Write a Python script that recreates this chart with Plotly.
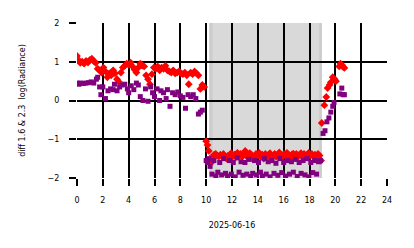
import plotly.graph_objects as go

# Red series (diff 1.6 & 2.3 log radiance, set A)
red_t = [0.0, 0.1, 0.25, 0.4, 0.55, 0.7, 0.85, 1.0, 1.15, 1.3, 1.45, 1.6, 1.75, 1.9, 2.05, 2.2, 2.35, 2.5, 2.65, 2.8, 2.95,
         3.1, 3.25, 3.4, 3.55, 3.7, 3.85, 4.0, 4.15, 4.3, 4.45, 4.6, 4.75, 4.9, 5.05, 5.2, 5.35, 5.5, 5.65, 5.8, 5.95,
         6.1, 6.25, 6.4, 6.55, 6.7, 6.85, 7.0, 7.15, 7.3, 7.45, 7.6, 7.75, 7.9, 8.05, 8.2, 8.35, 8.5, 8.65, 8.8, 8.95,
         9.1, 9.25, 9.4, 9.55, 9.7, 9.85,
         10.0, 10.1, 10.2, 10.3, 10.4, 10.5, 10.62, 10.74, 10.86, 10.98, 11.1, 11.22, 11.34, 11.46, 11.58, 11.7, 11.82,
         11.94, 12.06, 12.18, 12.3, 12.42, 12.54, 12.66, 12.78, 12.9, 13.02, 13.14, 13.26, 13.38, 13.5, 13.62, 13.74,
         13.86, 13.98, 14.1, 14.22, 14.34, 14.46, 14.58, 14.7, 14.82, 14.94, 15.06, 15.18, 15.3, 15.42, 15.54, 15.66,
         15.78, 15.9, 16.02, 16.14, 16.26, 16.38, 16.5, 16.62, 16.74, 16.86, 16.98, 17.1, 17.22, 17.34, 17.46, 17.58,
         17.7, 17.82, 17.94, 18.06, 18.18, 18.3, 18.42, 18.54, 18.66, 18.78, 18.9,
         18.95, 19.15, 19.3, 19.4, 19.55, 19.65, 19.8, 19.95, 20.05, 20.3, 20.4, 20.5, 20.6, 20.7]
red_v = [1.15, 1.05, 0.97, 1.0, 0.95, 1.02, 0.98, 1.05, 1.08, 1.02, 0.97, 0.82, 0.78, 0.72, 0.85, 0.75, 0.6, 0.7, 0.65, 0.78, 0.7,
         0.55, 0.48, 0.72, 0.85, 0.9, 0.95, 0.92, 0.98, 0.88, 0.8, 0.72, 0.85, 0.95, 0.9, 0.88, 0.65, 0.55, 0.42, 0.68, 0.85,
         0.82, 0.88, 0.78, 0.85, 0.82, 0.9, 0.78, 0.75, 0.72, 0.78, 0.7, 0.72, 0.75, 0.7, 0.68, 0.72, 0.65, 0.42, 0.72, 0.68,
         0.75, 0.7, 0.65, 0.3, 0.4, 0.35,
         -1.05, -1.15, -1.3, -1.5, -1.6, -1.45, -1.4, -1.38, -1.42, -1.45, -1.4, -1.43, -1.38, -1.45, -1.5, -1.42, -1.4,
         -1.36, -1.44, -1.4, -1.46, -1.35, -1.42, -1.38, -1.45, -1.4, -1.3, -1.42, -1.48, -1.36, -1.4, -1.52, -1.45,
         -1.38, -1.42, -1.35, -1.46, -1.4, -1.5, -1.38, -1.44, -1.4, -1.36, -1.48, -1.42, -1.38, -1.45, -1.4, -1.34,
         -1.42, -1.46, -1.38, -1.4, -1.35, -1.44, -1.5, -1.4, -1.37, -1.43, -1.38, -1.46, -1.4, -1.36, -1.42, -1.38,
         -1.45, -1.4, -1.35, -1.42, -1.38, -1.44, -1.4, -1.46, -1.38, -1.42, -1.55,
         -0.58, -0.12, 0.09, 0.32, 0.4, 0.47, 0.6, 0.55, 0.5, 0.88, 0.95, 0.92, 0.87, 0.84]

# Purple series (set B)
pur_t = [0.0, 0.15, 0.3, 0.5, 0.7, 0.9, 1.1, 1.3, 1.5, 1.6, 1.75, 1.85, 2.0, 2.2, 2.4, 2.6, 2.8, 2.9, 3.1, 3.3, 3.5,
         3.7, 3.9, 4.0, 4.2, 4.4, 4.6, 4.75, 4.9, 5.1, 5.3, 5.5, 5.7, 5.85, 6.0, 6.2, 6.4, 6.5, 6.7, 6.9, 7.0, 7.2,
         7.4, 7.6, 7.8, 8.0, 8.2, 8.4, 8.6, 8.8, 9.0, 9.2, 9.4, 9.55, 9.7,
         10.0, 10.1, 10.2, 10.3, 10.45, 10.6, 10.75, 10.9, 11.05, 11.2, 11.35, 11.5, 11.65, 11.8, 11.95, 12.1, 12.25,
         12.4, 12.55, 12.7, 12.85, 13.0, 13.15, 13.3, 13.45, 13.6, 13.75, 13.9, 14.05, 14.2, 14.35, 14.5, 14.65,
         14.8, 14.95, 15.1, 15.25, 15.4, 15.55, 15.7, 15.85, 16.0, 16.15, 16.3, 16.45, 16.6, 16.75, 16.9, 17.05,
         17.2, 17.35, 17.5, 17.65, 17.8, 17.95, 18.1, 18.25, 18.4, 18.55, 18.7, 18.85,
         19.05, 19.2, 19.35, 19.5, 19.65, 19.8, 19.9, 20.35, 20.5, 20.6, 20.7]
pur_v = [0.45, 0.42, 0.45, 0.44, 0.45, 0.46, 0.48, 0.45, 0.55, 0.6, 0.35, 0.15, 0.35, 0.05, 0.25, 0.3, 0.28, 0.42, 0.25, 0.35, 0.4,
         0.42, 0.3, 0.2, 0.38, 0.28, 0.45, 0.4, 0.1, 0.0, 0.3, -0.02, 0.35, 0.2, 0.1, 0.3, 0.0, 0.25, 0.2, 0.05, 0.28, -0.15,
         0.2, 0.15, 0.22, 0.12, 0.08, -0.2, 0.15, 0.1, 0.15, 0.05, -0.35, -0.3, -0.25,
         -1.55, -1.6, -1.5, -1.7, -1.9, -1.55, -1.95, -1.85, -1.6, -1.92, -1.5, -1.88, -1.95, -1.55, -1.9, -1.6, -1.97,
         -1.48, -1.85, -1.58, -1.93, -1.6, -1.9, -1.52, -1.96, -1.88, -1.55, -1.92, -1.6, -1.85, -1.95, -1.5, -1.9,
         -1.58, -1.97, -1.55, -1.88, -1.62, -1.93, -1.5, -1.86, -1.6, -1.95, -1.55, -1.9, -1.58, -1.85, -1.52, -1.96,
         -1.6, -1.88, -1.55, -1.92, -1.5, -1.97, -1.6, -1.86, -1.55, -1.9, -1.58, -1.55,
         -0.85, -0.78, -0.55, -0.45, -0.3, -0.15, -0.05, 0.17, 0.32, 0.15, 0.15]

shade_start, shade_end = 10.25, 18.95
x_ticks = list(range(0, 25, 2))
y_ticks = [-2, -1, 0, 1, 2]

fig = go.Figure()
fig.add_vrect(x0=shade_start, x1=shade_end, fillcolor="#d9d9d9", opacity=1, line_width=0, layer="below")
fig.add_vrect(x0=shade_start, x1=shade_start + 0.25, fillcolor="#cccccc", opacity=1, line_width=0, layer="below")
fig.add_vrect(x0=shade_end - 0.2, x1=shade_end, fillcolor="#cccccc", opacity=1, line_width=0, layer="below")

fig.add_trace(go.Scatter(x=red_t, y=red_v, mode="markers",
                         marker=dict(symbol="diamond", size=6, color="#ff0000", line_width=0),
                         showlegend=False))
fig.add_trace(go.Scatter(x=pur_t, y=pur_v, mode="markers",
                         marker=dict(symbol="square", size=5, color="#800080", line_width=0),
                         showlegend=False))

axis_common = dict(showgrid=True, gridcolor="black", gridwidth=2, zeroline=False,
                   ticks="outside", ticklen=7, tickwidth=2, tickcolor="black",
                   tickfont=dict(family="DejaVu Sans", size=8, color="black"),
                   showline=False, layer="above traces")
fig.update_xaxes(range=[0, 24], tickvals=x_ticks, ticklabelstandoff=7, **axis_common,
                 title=dict(text="2025-06-16", font=dict(family="DejaVu Sans", size=8, color="black"), standoff=18))
fig.update_yaxes(range=[-2, 2], tickvals=y_ticks, ticklabelstandoff=8, **axis_common,
                 title=dict(text="diff 1.6 &amp; 2.3  log(Radiance)", font=dict(family="DejaVu Sans", size=8, color="black"), standoff=20))

fig.update_layout(width=414, height=248, margin=dict(l=77, r=27, t=23, b=70),
                  paper_bgcolor="white", plot_bgcolor="white",
                  font=dict(family="DejaVu Sans", size=8, color="black"))
fig.write_html("out.html")
